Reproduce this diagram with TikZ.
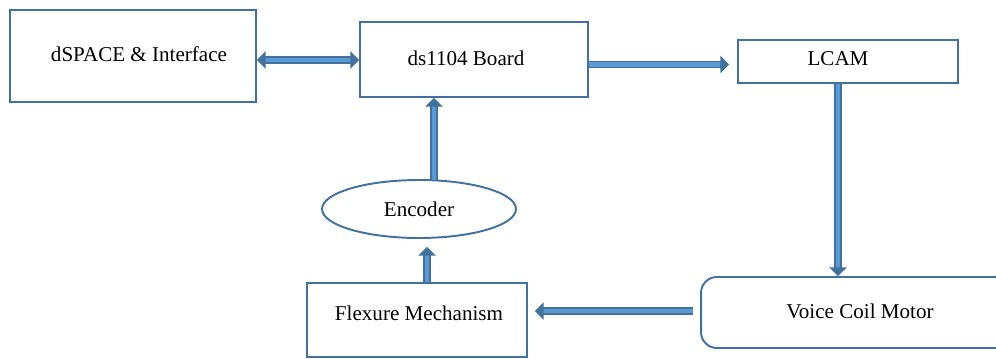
\documentclass[tikz,border=0pt]{standalone}
\usepackage{fontspec}
\setmainfont{Liberation Serif}
\usetikzlibrary{shapes.geometric,arrows.meta}
\definecolor{edgeblue}{RGB}{65,113,156}
\definecolor{arrowfill}{RGB}{91,155,213}
\tikzset{
  block/.style={draw=edgeblue, line width=1.1pt, rectangle, font=\fontsize{12}{14}\selectfont},
  barrow/.style={draw=edgeblue, line width=0.9pt, double=arrowfill, double distance=2.4pt,
    -{Triangle[length=5pt,width=10pt]}},
}
\begin{document}
\begin{tikzpicture}[x=0.02cm,y=-0.02cm]
\useasboundingbox (0,0) rectangle (996,358);
% blocks
\node[block, minimum width=4.92cm, minimum height=1.84cm] (dspace) at (133,56) {};
\node at (139,54) {\fontsize{12}{14}\selectfont dSPACE \& Interface};
\node[block, minimum width=4.56cm, minimum height=1.5cm] (board) at (474,59.5) {};
\node at (466,58) {\fontsize{12}{14}\selectfont ds1104 Board};
\node[block, minimum width=4.4cm, minimum height=0.86cm] (lcam) at (848,61.5) {};
\node at (838,59) {\fontsize{12}{14}\selectfont LCAM};
\node[block, ellipse, minimum width=3.88cm, minimum height=1.16cm] (encoder) at (419,209) {Encoder};
\node[block, minimum width=4.4cm, minimum height=1.48cm] (flexure) at (417,320) {};
\node at (419,313) {\fontsize{12}{14}\selectfont Flexure Mechanism};
\node[block, rounded corners=9pt, minimum width=6.2cm, minimum height=1.42cm] (vcm) at (856,312.5) {};
\node at (860,311) {\fontsize{12}{14}\selectfont Voice Coil Motor};
% arrows
\draw[barrow, {Triangle[length=5pt,width=10pt]}-{Triangle[length=5pt,width=10pt]}]
  ([yshift=-0.08cm]dspace.east) -- ([yshift=-0.08cm]dspace.east -| board.west);
\draw[barrow] ([yshift=-0.1cm]board.east) -- ([xshift=-0.16cm,yshift=-0.1cm]board.east -| lcam.west);
\draw[barrow] ([xshift=-0.2cm]lcam.south) -- ([xshift=-0.2cm]lcam.south |- vcm.north);
\draw[barrow] ([xshift=-0.14cm,yshift=0.03cm]vcm.west) -- ([xshift=0.14cm,yshift=0.03cm]vcm.west -| flexure.east);
\draw[barrow] ([xshift=0.2cm]flexure.north) -- ([xshift=0.2cm,yshift=-0.16cm]flexure.north |- encoder.south);
\draw[barrow] ([xshift=0.3cm,yshift=-0.02cm]encoder.north) -- ([xshift=0.3cm]encoder.north |- board.south);
\end{tikzpicture}
\end{document}
